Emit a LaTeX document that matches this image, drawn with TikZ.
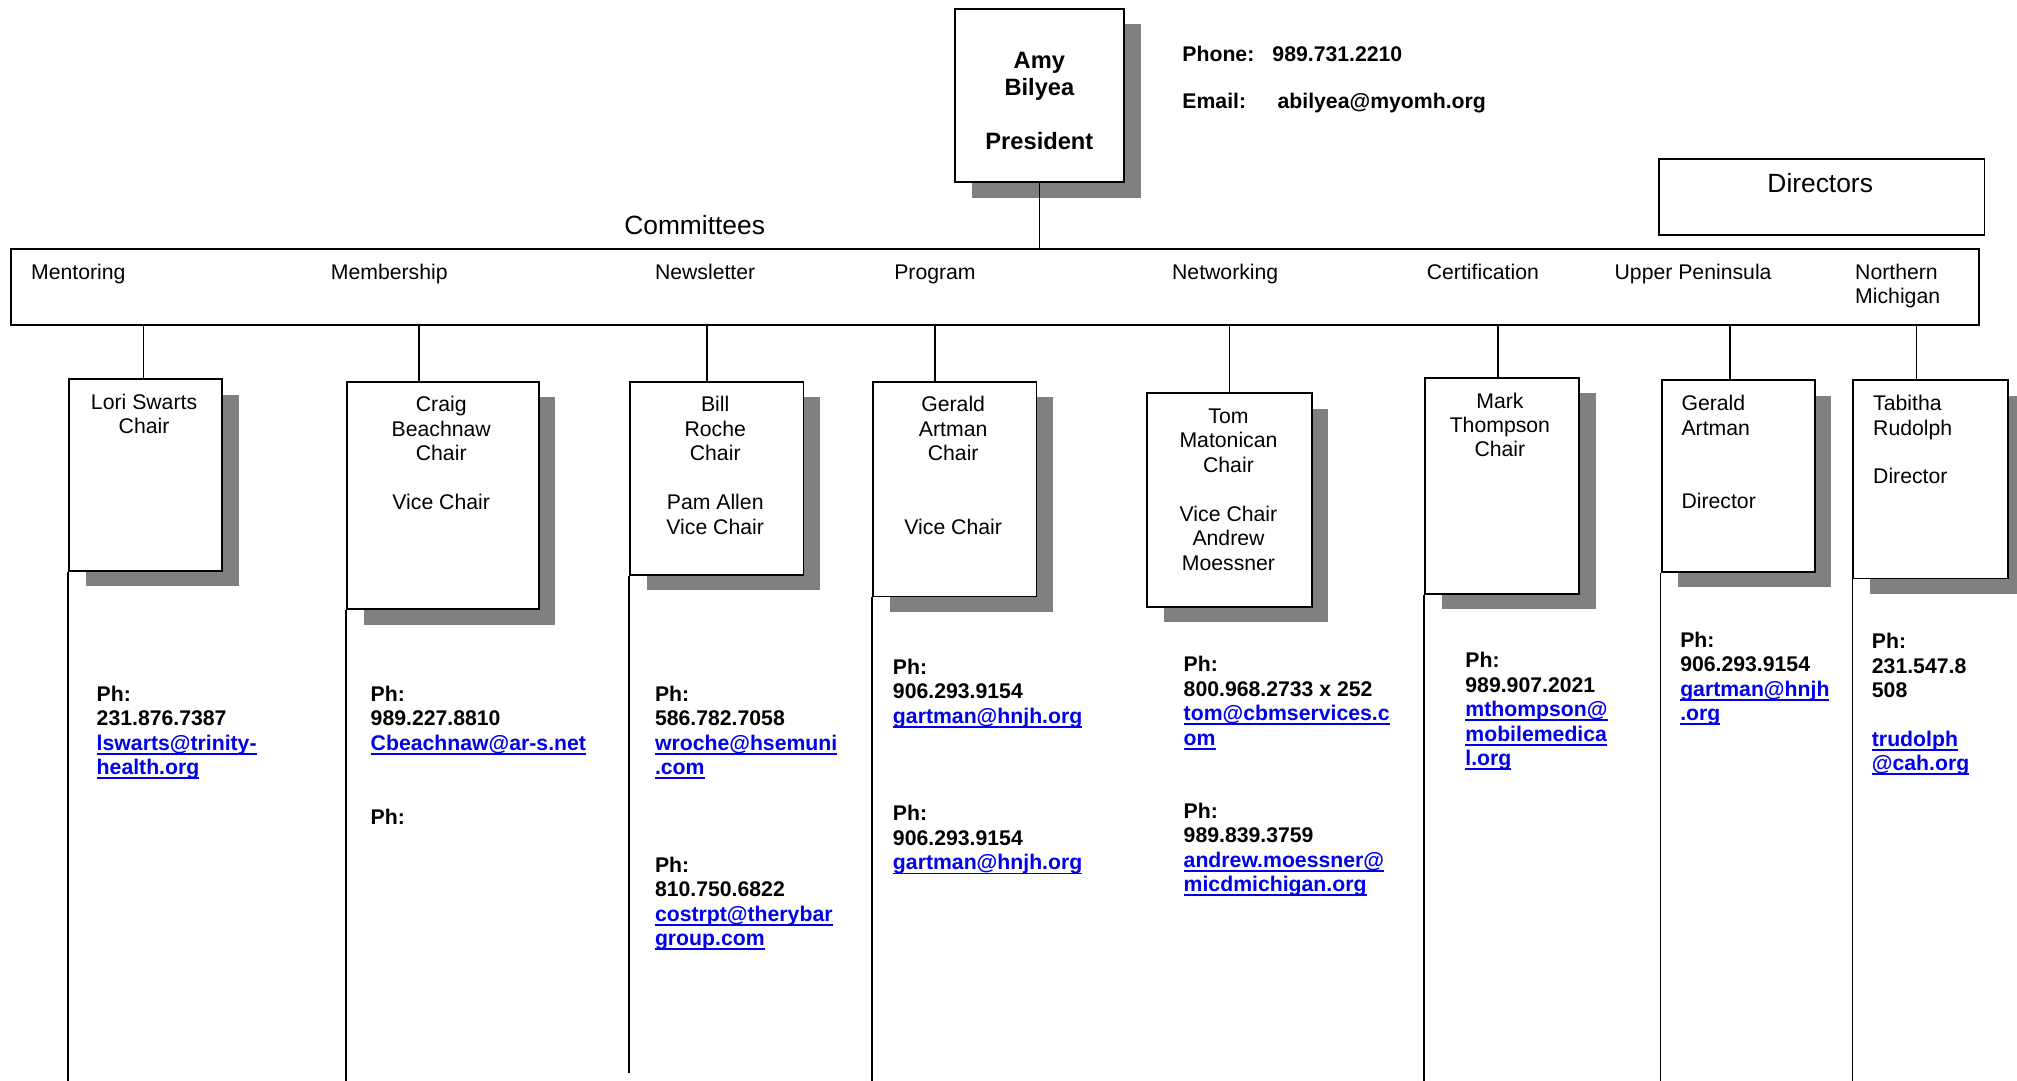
\documentclass[tikz,border=0pt]{standalone}
\usepackage{fontspec}
\setmainfont{Liberation Sans}
\usetikzlibrary{shadows}
\definecolor{lk}{RGB}{0,0,235}
\definecolor{shgray}{RGB}{128,128,128}
\newcommand\lnk[1]{\textcolor{lk}{\sbox0{#1}\rlap{\rule[-3.5pt]{\wd0}{1.4pt}}\usebox0}}
\tikzset{
  lbl/.style={inner sep=0pt, font=\fontsize{16.5}{19}\selectfont, align=center, anchor=north, yshift=13.3pt},
  lbll/.style={inner sep=0pt, font=\fontsize{16.5}{19}\selectfont, align=left, anchor=north west, yshift=13.3pt},
  ctc/.style={inner sep=0pt, font=\bfseries\fontsize{16.5}{19}\selectfont, align=left, anchor=north west, yshift=13.3pt},
  big/.style={inner sep=0pt, font=\fontsize{20.5}{23}\selectfont, anchor=base},
  bx/.style={draw, line width=1.4pt, fill=white, inner sep=0pt, anchor=north west},
  shbx/.style={bx, general shadow={fill=shgray, shadow xshift=13pt, shadow yshift=-12pt}},
  ln/.style={line width=1.2pt},
}
\begin{document}
\begin{tikzpicture}[x=1pt,y=-1pt]
\useasboundingbox[fill=white] (0,0) rectangle (1568,840);
\coordinate (bot) at (0,840);
\coordinate (botB) at (0,834);

% President
\node[shbx, minimum width=131pt, minimum height=135pt] (pres) at (742,6) {};
\node[inner sep=0pt, font=\bfseries\fontsize{18.4}{21}\selectfont, align=center, anchor=north, yshift=14.7pt] (prestxt) at (808,53) {\strut Amy\\Bilyea\\[21pt]President};
\node[lbll, font=\bfseries\fontsize{16.5}{19}\selectfont] (phl) at (919,48) {\strut Phone:};
\node[lbll, font=\bfseries\fontsize{16.5}{19}\selectfont] (phv) at (989,48) {\strut 989.731.2210};
\node[lbll, font=\bfseries\fontsize{16.5}{19}\selectfont] (eml) at (919,84) {\strut Email:};
\node[lbll, font=\bfseries\fontsize{16.5}{19}\selectfont] (emv) at (993,84) {\strut abilyea@myomh.org};

% Directors
\node[bx, minimum width=253pt, minimum height=59pt] (dirs) at (1289,123) {};
\node[big] (dirtxt) at (1415,150) {Directors};

% Committees
\node[big] (comtxt) at (540,182) {Committees};
\node[bx, minimum width=1530pt, minimum height=59pt] (comm) at (8,193) {};
\draw[ln] (pres.south) -- (pres.south |- comm.north);

\node[lbll] (c1) at (24,217) {\strut Mentoring};
\node[lbll] (c2) at (257,217) {\strut Membership};
\node[lbll] (c3) at (509,217) {\strut Newsletter};
\node[lbll] (c4) at (695,217) {\strut Program};
\node[lbll] (c5) at (911,217) {\strut Networking};
\node[lbll] (c6) at (1109,217) {\strut Certification};
\node[lbll] (c7) at (1255,217) {\strut Upper Peninsula};
\node[lbll] (c8) at (1442,217) {\strut Northern\\Michigan};

% Person boxes
\node[shbx, minimum width=119pt, minimum height=149pt] (b1) at (53,294) {};
\node[shbx, minimum width=149pt, minimum height=177pt] (b2) at (269,296) {};
\node[shbx, minimum width=135pt, minimum height=150pt] (b3) at (489,296) {};
\node[shbx, minimum width=127pt, minimum height=167pt] (b4) at (678,296) {};
\node[shbx, minimum width=128pt, minimum height=166pt] (b5) at (891,305) {};
\node[shbx, minimum width=120pt, minimum height=168pt] (b6) at (1107,293) {};
\node[shbx, minimum width=119pt, minimum height=149pt] (b7) at (1291,295) {};
\node[shbx, minimum width=120pt, minimum height=154pt] (b8) at (1440,295) {};

% connectors from committees box
\draw[ln] ([xshift=-1.5pt]b1.north) -- ([xshift=-1.5pt]b1.north |- comm.south);
\draw[ln] ([xshift=-18.5pt]b2.north) -- ([xshift=-18.5pt]b2.north |- comm.south);
\draw[ln] ([xshift=-7.5pt]b3.north) -- ([xshift=-7.5pt]b3.north |- comm.south);
\draw[ln] ([xshift=-15.5pt]b4.north) -- ([xshift=-15.5pt]b4.north |- comm.south);
\draw[ln] (b5.north) -- (b5.north |- comm.south);
\draw[ln] ([xshift=-3pt]b6.north) -- ([xshift=-3pt]b6.north |- comm.south);
\draw[ln] ([xshift=-6.5pt]b7.north) -- ([xshift=-6.5pt]b7.north |- comm.south);
\draw[ln] ([xshift=-11pt]b8.north) -- ([xshift=-11pt]b8.north |- comm.south);

% long lines
\draw[ln] (b1.south west) -- (b1.south west |- bot);
\draw[ln] (b2.south west) -- (b2.south west |- bot);
\draw[ln] (b3.south west) -- (b3.south west |- botB);
\draw[ln] (b4.south west) -- (b4.south west |- bot);
\draw[ln] (b6.south west) -- (b6.south west |- bot);
\draw[ln] (b7.south west) -- (b7.south west |- bot);
\draw[ln] (b8.south west) -- (b8.south west |- bot);

% texts in boxes
\node[lbl] (t1) at (112,318) {\strut Lori Swarts\\Chair};
\node[lbl] (t2) at (343,320) {\strut Craig\\Beachnaw\\Chair\\[19pt]Vice Chair};
\node[lbl] (t3) at (556,320) {\strut Bill\\Roche\\Chair\\[19pt]Pam Allen\\Vice Chair};
\node[lbl] (t4) at (741,320) {\strut Gerald\\Artman\\Chair\\[38pt]Vice Chair};
\node[lbl] (t5) at (955,329) {\strut Tom\\Matonican\\Chair\\[19pt]Vice Chair\\Andrew\\Moessner};
\node[lbl] (t6) at (1166,317) {\strut Mark\\Thompson\\Chair};
\node[lbll] (t7) at (1307,319) {\strut Gerald\\Artman\\[38pt]Director};
\node[lbll] (t8) at (1456,319) {\strut Tabitha\\Rudolph\\[19pt]Director};

% contacts
\node[ctc] (k1) at (75,545) {\strut Ph:\\231.876.7387\\\lnk{lswarts@trinity-}\\\lnk{health.org}};
\node[ctc] (k2) at (288,545) {\strut Ph:\\989.227.8810\\\lnk{Cbeachnaw@ar-s.net}};
\node[ctc] (k2b) at (288,641) {\strut Ph:};
\node[ctc] (k3) at (509,545) {\strut Ph:\\586.782.7058\\\lnk{wroche@hsemuni}\\\lnk{.com}};
\node[ctc] (k3b) at (509,678) {\strut Ph:\\810.750.6822\\\lnk{costrpt@therybar}\\\lnk{group.com}};
\node[ctc] (k4) at (694,524) {\strut Ph:\\906.293.9154\\\lnk{gartman@hnjh.org}};
\node[ctc] (k4b) at (694,638) {\strut Ph:\\906.293.9154\\\lnk{gartman@hnjh.org}};
\node[ctc] (k5) at (920,522) {\strut Ph:\\800.968.2733 x 252\\\lnk{tom@cbmservices.c}\\\lnk{om}};
\node[ctc] (k5b) at (920,636) {\strut Ph:\\989.839.3759\\\lnk{andrew.moessner@}\\\lnk{micdmichigan.org}};
\node[ctc] (k6) at (1139,519) {\strut Ph:\\989.907.2021\\\lnk{mthompson@}\\\lnk{mobilemedica}\\\lnk{l.org}};
\node[ctc] (k7) at (1306,503) {\strut Ph:\\906.293.9154\\\lnk{gartman@hnjh}\\\lnk{.org}};
\node[ctc] (k8) at (1455,504) {\strut Ph:\\231.547.8\\508\\[19pt]\lnk{trudolph}\\\lnk{@cah.org}};
\end{tikzpicture}
\end{document}
